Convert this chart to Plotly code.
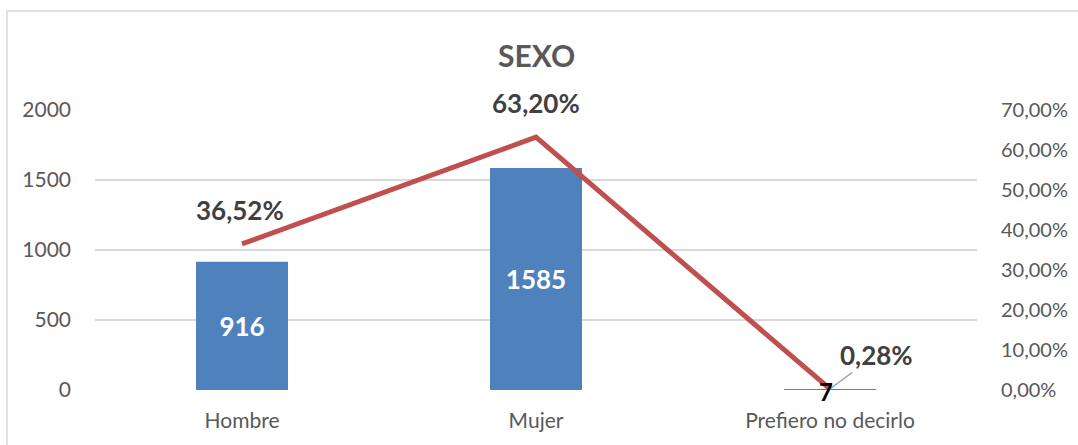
import plotly.graph_objects as go

categories = ["Hombre", "Mujer", "Prefiero no decirlo"]
counts = [916, 1585, 7]
percents = [36.52, 63.20, 0.28]
left_ticks = [0, 500, 1000, 1500, 2000]
right_ticks = [0, 10, 20, 30, 40, 50, 60, 70]

FONT = "Lato"
TICK_COLOR = "#595959"
LABEL_COLOR = "#404040"


def pct(v):
    return f"{v:.2f}".replace(".", ",") + "%"


fig = go.Figure()

bar_text = [str(c) if c > 100 else "" for c in counts]
fig.add_trace(go.Bar(
    x=categories, y=counts, marker_color="#4f81bd", marker_line_width=0,
    text=bar_text, textposition="inside", insidetextanchor="middle",
    textfont=dict(family=FONT, size=26, color="white", weight="bold"),
    hoverinfo="skip", yaxis="y",
))

fig.add_trace(go.Scatter(
    x=categories, y=percents, mode="lines",
    line=dict(color="#c0504d", width=5),
    yaxis="y2", hoverinfo="skip",
))

annotations = []
for i, (c, p) in enumerate(zip(categories, percents)):
    if i < 2:
        annotations.append(dict(
            x=c, y=p, xref="x", yref="y2", text="<b>" + pct(p) + "</b>",
            showarrow=False, yshift=34, xshift=-2 if i == 0 else 0,
            font=dict(family=FONT, size=26, color=LABEL_COLOR),
        ))
    else:
        annotations.append(dict(
            x=c, y=p, xref="x", yref="y2", text="<b>" + pct(p) + "</b>",
            showarrow=True, arrowhead=0, arrowwidth=1.3, arrowcolor="#a6a6a6",
            ax=46, ay=-34, standoff=0,
            font=dict(family=FONT, size=26, color=LABEL_COLOR),
        ))
for c, n in zip(categories, counts):
    if n <= 100:
        annotations.append(dict(
            x=c, y=n, xref="x", yref="y", text="<b>" + str(n) + "</b>",
            showarrow=False, yshift=-2, xshift=-4, height=20,
            font=dict(family=FONT, size=24, color="black"),
        ))

annotations.append(dict(
    x=0.5, y=1 + (110 - 55) / 280, xref="paper", yref="paper",
    text="<b>SEXO</b>", showarrow=False, yanchor="middle",
    font=dict(family=FONT, size=30, color=TICK_COLOR),
))

fig.update_layout(
    width=1078, height=445,
    margin=dict(l=95, r=101, t=110, b=55, autoexpand=False),
    paper_bgcolor="white", plot_bgcolor="white",
    showlegend=False,
    bargap=0.687,
    font=dict(family=FONT, size=21, color=TICK_COLOR),
    xaxis=dict(
        showgrid=False, showline=False, automargin=False,
        ticks="", tickfont=dict(family=FONT, size=21, color=TICK_COLOR),
        ticklabelstandoff=16,
    ),
    yaxis=dict(
        range=[0, 2000], tickvals=left_ticks, showgrid=True,
        gridcolor="#d9d9d9", gridwidth=1.5, zeroline=False, automargin=False,
        showline=False, ticks="", ticklabelstandoff=23,
        tickfont=dict(family=FONT, size=21, color=TICK_COLOR),
    ),
    yaxis2=dict(
        range=[0, 70], tickvals=right_ticks,
        ticktext=[pct(v) for v in right_ticks], automargin=False,
        overlaying="y", side="right", showgrid=False, zeroline=False,
        showline=False, ticks="", ticklabelstandoff=23,
        tickfont=dict(family=FONT, size=20, color=TICK_COLOR),
    ),
    annotations=annotations,
    shapes=[dict(
        type="rect", xref="paper", yref="paper",
        x0=-88 / 882, x1=1.15, y0=-0.3, y1=1 + 99 / 280,
        line=dict(color="#d9d9d9", width=1.5), fillcolor="rgba(0,0,0,0)",
        layer="below",
    )],
)

fig.write_html(
    "out.html",
    config={"displayModeBar": False},
    post_script="document.body.style.margin='0';document.body.style.overflow='hidden';",
)
